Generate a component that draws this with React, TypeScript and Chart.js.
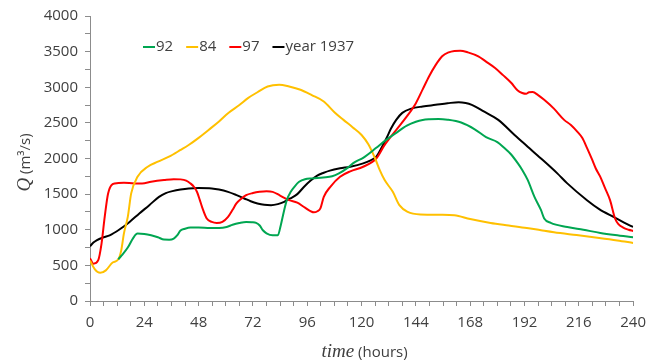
import { useEffect, useRef } from 'react';
import { Chart, registerables } from 'chart.js';

Chart.register(...registerables);

// ---- data ----
const seriesLabels = ['92', '84', '97', 'year 1937'];
const seriesColors = ['#00A651', '#FFC000', '#FF0000', '#000000'];

const t92 = [12.5, 14, 16.7, 19, 21, 24, 27, 30, 32.7, 35, 37, 38.5, 40, 42, 44.4, 48, 53, 57, 60.4, 63, 66, 69, 71.5, 73.4, 75, 76.4, 78, 80.7, 83, 84.2, 85.8, 87, 88.7, 90.5, 92.4, 95, 98.2, 103, 107, 110, 113.5, 117, 120.7, 126.5, 130, 135.3, 140, 144, 147, 150, 154, 158, 164, 170, 175, 180, 183, 186, 189, 191, 193.4, 196.4, 199.3, 200.7, 203.6, 210.9, 218, 225.5, 232, 240];
const q92 = [585, 640, 750, 880, 946, 940, 922, 895, 862, 860, 875, 920, 990, 1015, 1030, 1030, 1025, 1025, 1039, 1070, 1095, 1110, 1105, 1096, 1060, 993, 950, 922, 922, 1050, 1275, 1420, 1532, 1610, 1673, 1710, 1721, 1735, 1750, 1790, 1862, 1950, 2010, 2150, 2240, 2360, 2460, 2515, 2540, 2550, 2555, 2545, 2505, 2410, 2300, 2230, 2150, 2060, 1935, 1840, 1700, 1462, 1275, 1158, 1096, 1039, 1000, 955, 925, 894];

const t84 = [0, 2, 4.5, 7, 10, 12.5, 13.8, 15, 16.7, 18.2, 21, 25.5, 30, 34.9, 40, 43.6, 48, 52.4, 57, 61, 66, 69.8, 74, 78.5, 83.6, 88, 93, 98, 103.3, 108, 112, 116, 120, 123, 126, 128, 130.2, 133.8, 136.7, 140.4, 146, 155, 161, 168, 177, 185, 193, 199.3, 205, 215, 225, 233, 240];
const q84 = [570, 450, 395, 430, 540, 585, 711, 950, 1180, 1510, 1744, 1884, 1955, 2025, 2120, 2190, 2290, 2401, 2520, 2636, 2750, 2848, 2930, 3011, 3035, 3010, 2965, 2890, 2800, 2650, 2542, 2440, 2330, 2200, 2000, 1840, 1697, 1532, 1345, 1251, 1215, 1210, 1204, 1150, 1096, 1060, 1025, 993, 965, 925, 885, 850, 815];

const t97 = [0, 1.5, 3.6, 5.1, 6.5, 8, 10.9, 15, 19.6, 23, 27, 32.7, 37, 40, 42.5, 44.4, 46, 47.3, 48.5, 49.5, 51.6, 53.8, 56, 58.5, 61, 63, 64.7, 67, 69, 72, 74.9, 78, 80.7, 84, 88, 91.6, 95, 98.9, 100.5, 101.8, 103.3, 106.2, 110.5, 115, 120.7, 126.5, 130, 135.3, 140, 144, 147, 149.8, 152.5, 155.6, 158.5, 161, 163.6, 167, 171.6, 175, 179, 182.5, 186.2, 189, 191, 192.7, 194, 195.6, 198, 200.7, 205, 209.5, 212.5, 215.3, 217.5, 219.6, 221.8, 223.5, 225.5, 227.5, 229.8, 232, 233.5, 235.6, 238, 240];
const q97 = [600, 524, 570, 806, 1180, 1510, 1650, 1660, 1650, 1650, 1673, 1697, 1710, 1707, 1690, 1650, 1600, 1530, 1420, 1321, 1158, 1110, 1095, 1110, 1180, 1280, 1369, 1440, 1486, 1515, 1532, 1540, 1532, 1480, 1415, 1380, 1310, 1245, 1260, 1300, 1462, 1603, 1744, 1820, 1884, 2000, 2180, 2400, 2590, 2777, 2970, 3152, 3300, 3434, 3490, 3510, 3514, 3490, 3434, 3360, 3270, 3170, 3059, 2955, 2920, 2908, 2930, 2932, 2890, 2824, 2700, 2542, 2470, 2377, 2290, 2150, 1990, 1860, 1743, 1590, 1415, 1158, 1080, 1031, 1000, 983];

const t37 = [0, 1.5, 2.9, 6, 8.7, 13, 17.5, 21.8, 26.2, 30.5, 33.5, 36.4, 40, 43.6, 48, 53.8, 57, 61, 64.5, 68.2, 71, 74, 77, 80, 83, 85.8, 88.5, 91.6, 94.5, 97.5, 100.4, 103.3, 106, 110.5, 115, 120.7, 124, 126.5, 129, 131, 133, 135.3, 138, 142, 147, 152.7, 158, 162.9, 166, 168.7, 174, 180.4, 187.6, 193.4, 199.3, 206.5, 210.9, 219.6, 225, 231.3, 236, 240];
const q37 = [768, 820, 852, 895, 922, 1003, 1110, 1228, 1345, 1462, 1515, 1542, 1565, 1580, 1585, 1580, 1565, 1532, 1490, 1439, 1400, 1369, 1350, 1345, 1360, 1392, 1440, 1500, 1600, 1690, 1760, 1800, 1830, 1862, 1885, 1932, 1975, 2025, 2160, 2284, 2420, 2542, 2640, 2700, 2730, 2753, 2775, 2791, 2780, 2753, 2660, 2542, 2330, 2166, 2000, 1791, 1651, 1415, 1290, 1180, 1100, 1039];

const seriesT = [t92, t84, t97, t37];
const seriesQ = [q92, q84, q97, q37];

const xMin = 0;
const xMax = 240;
const xTickStep = 6;
const xLabelEvery = 24;
const yMin = 0;
const yMax = 4000;
const yTickStep = 250;
const yLabelEvery = 500;

const axisColor = '#8C8C8C';
const textColor = '#404040';
const sansFont = "'Open Sans', 'Liberation Sans', sans-serif";
const serifItalic = "'Liberation Serif', 'DejaVu Serif', serif";

const legendPlugin = {
  id: 'insideLegend',
  afterDraw(chart: any) {
    const ctx = chart.ctx;
    const area = chart.chartArea;
    let x = area.left + 53;
    const y = area.top + 31;
    ctx.save();
    ctx.font = `15px ${sansFont}`;
    ctx.textBaseline = 'middle';
    ctx.textAlign = 'left';
    chart.data.datasets.forEach((ds: any) => {
      ctx.strokeStyle = ds.borderColor;
      ctx.lineWidth = 2;
      ctx.beginPath();
      ctx.moveTo(x, y);
      ctx.lineTo(x + 12, y);
      ctx.stroke();
      x += 13;
      ctx.fillStyle = textColor;
      ctx.fillText(ds.label, x, y);
      x += ctx.measureText(ds.label).width + 13;
    });
    ctx.restore();
  },
};

const axisTitlePlugin = {
  id: 'axisTitles',
  afterDraw(chart: any) {
    const ctx = chart.ctx;
    const area = chart.chartArea;
    ctx.save();
    ctx.fillStyle = textColor;
    ctx.textBaseline = 'middle';
    ctx.textAlign = 'left';
    // x title
    const p1 = 'time';
    const p2 = ' (hours)';
    ctx.font = `italic 19px ${serifItalic}`;
    const w1 = ctx.measureText(p1).width;
    ctx.font = `15px ${sansFont}`;
    const w2 = ctx.measureText(p2).width;
    const cx = (area.left + area.right) / 2 + 3;
    const ty = 352;
    const sx = cx - (w1 + w2) / 2;
    ctx.font = `italic 19px ${serifItalic}`;
    ctx.fillText(p1, sx, ty);
    ctx.font = `15px ${sansFont}`;
    ctx.fillText(p2, sx + w1, ty + 1);
    // y title
    const q1 = 'Q';
    const q2 = ' (m³/s)';
    ctx.translate(25, (area.top + area.bottom) / 2 + 4);
    ctx.rotate(-Math.PI / 2);
    ctx.font = `italic 19px ${serifItalic}`;
    const v1 = ctx.measureText(q1).width;
    ctx.font = `15px ${sansFont}`;
    const v2 = ctx.measureText(q2).width;
    const s = -(v1 + v2) / 2;
    ctx.font = `italic 19px ${serifItalic}`;
    ctx.fillText(q1, s, 0);
    ctx.font = `15px ${sansFont}`;
    ctx.fillText(q2, s + v1, 1);
    ctx.restore();
  },
};

export default function App() {
  const ref = useRef<HTMLCanvasElement | null>(null);

  useEffect(() => {
    if (!ref.current) return;
    const datasets = seriesLabels.map((label, i) => ({
      label,
      data: seriesT[i].map((t, j) => ({ x: t, y: seriesQ[i][j] })),
      borderColor: seriesColors[i],
      backgroundColor: seriesColors[i],
      borderWidth: 2,
      pointRadius: 0,
      fill: false,
      cubicInterpolationMode: 'monotone' as const,
    }));
    const chart = new Chart(ref.current, {
      type: 'line',
      data: { datasets },
      options: {
        animation: false,
        responsive: false,
        layout: { padding: { top: 16, right: 14, left: 0, bottom: 0 } },
        plugins: {
          legend: { display: false },
          tooltip: { enabled: false },
        },
        scales: {
          x: {
            type: 'linear',
            min: xMin,
            max: xMax,
            afterFit: (scale: any) => {
              scale.height = 62;
            },
            ticks: {
              stepSize: xTickStep,
              autoSkip: false,
              maxRotation: 0,
              padding: 8,
              color: textColor,
              font: { family: sansFont, size: 15 },
              callback: (v: any) => (Number(v) % xLabelEvery === 0 ? String(v) : ''),
            },
            grid: { drawOnChartArea: false, drawTicks: true, tickLength: 5, color: axisColor },
            border: { display: true, color: axisColor, width: 1 },
          },
          y: {
            type: 'linear',
            min: yMin,
            max: yMax,
            afterFit: (scale: any) => {
              scale.width = 90;
            },
            ticks: {
              stepSize: yTickStep,
              autoSkip: false,
              padding: 7,
              color: textColor,
              font: { family: sansFont, size: 15 },
              callback: (v: any) => (Number(v) % yLabelEvery === 0 ? String(v) : ''),
            },
            grid: { drawOnChartArea: false, drawTicks: true, tickLength: 5, color: axisColor },
            border: { display: true, color: axisColor, width: 1 },
          },
        },
      },
      plugins: [legendPlugin, axisTitlePlugin],
    });
    return () => chart.destroy();
  }, []);

  return (
    <div style={{ position: 'fixed', left: 0, top: 0, width: 654, height: 363, background: '#fff' }}>
      <canvas ref={ref} width={654} height={363} style={{ display: 'block' }} />
    </div>
  );
}
